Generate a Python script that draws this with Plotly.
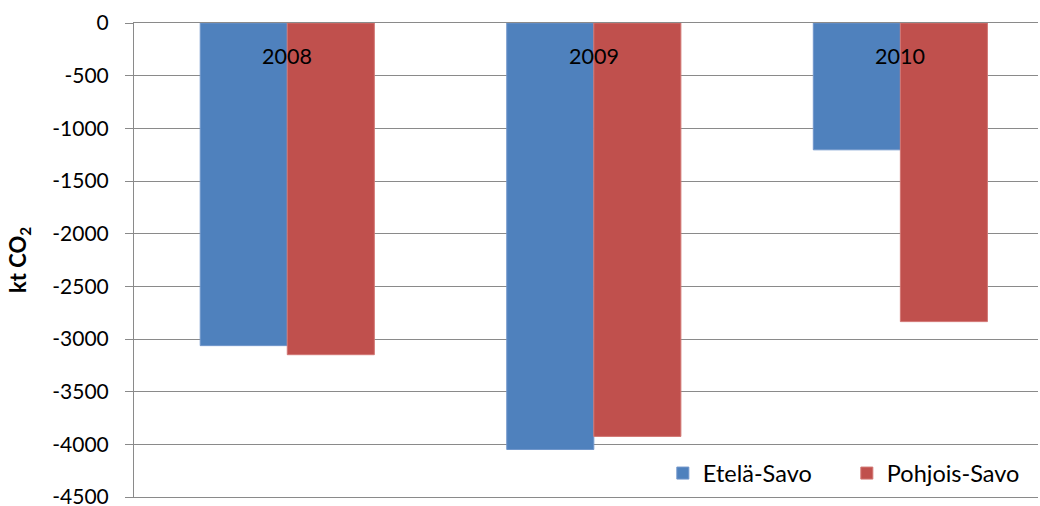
import plotly.graph_objects as go

years = ["2008", "2009", "2010"]
etela_savo = [-3063, -4049, -1204]
pohjois_savo = [-3149, -3925, -2835]
y_ticks = [0, -500, -1000, -1500, -2000, -2500, -3000, -3500, -4000, -4500]

FONT = "Lato, Carlito, Calibri, sans-serif"
GRID = "#8A8A8A"

fig = go.Figure()
fig.add_trace(go.Bar(
    name="Etelä-Savo", x=years, y=etela_savo,
    marker=dict(color="#4F81BD", line=dict(color="#7196CB", width=1)),
))
fig.add_trace(go.Bar(
    name="Pohjois-Savo", x=years, y=pohjois_savo,
    marker=dict(color="#C0504D", line=dict(color="#D27774", width=1)),
))

# category labels sit just under the zero line, inside the plot
for i, yr in enumerate(years):
    fig.add_annotation(
        x=i, y=0, xref="x", yref="y", text=yr, showarrow=False,
        yanchor="middle", yshift=-32.5,
        font=dict(family=FONT, size=21.5, color="#000000"),
    )

# vertical axis title
fig.add_annotation(
    x=0, y=0.5, xref="paper", yref="paper", xshift=-115,
    text="<b>kt CO<sub>2</sub></b>", showarrow=False, textangle=-90,
    xanchor="center", yanchor="middle",
    font=dict(family=FONT, size=22, color="#000000"),
)

fig.update_layout(
    width=1040, height=506,
    margin=dict(l=134, r=2, t=23, b=9, autoexpand=False),
    paper_bgcolor="white", plot_bgcolor="white",
    barmode="group", bargap=0.432, bargroupgap=0,
    font=dict(family=FONT, size=21, color="#000000"),
    showlegend=True,
    legend=dict(
        orientation="h", x=0.585, xanchor="left", y=0.05, yanchor="middle",
        font=dict(family=FONT, size=23.5), entrywidth=139,
        entrywidthmode="pixels", traceorder="normal",
        bgcolor="rgba(0,0,0,0)",
    ),
    xaxis=dict(type="category", range=[-0.5, 2.449], showticklabels=False,
               showgrid=False, zeroline=False, ticks="", automargin=False,
               showline=True, linecolor=GRID, linewidth=1, mirror=True),
    yaxis=dict(
        range=[-4500, 0], tickvals=y_ticks, ticktext=[str(v) for v in y_ticks],
        ticklabeloverflow="allow", ticklabelstandoff=12, automargin=False,
        showgrid=True, gridcolor=GRID, gridwidth=1,
        showline=True, linecolor=GRID, linewidth=1,
        ticks="outside", ticklen=8, tickcolor=GRID,
        zeroline=False, tickfont=dict(family=FONT, size=21),
    ),
)

fig.write_html("out.html")
